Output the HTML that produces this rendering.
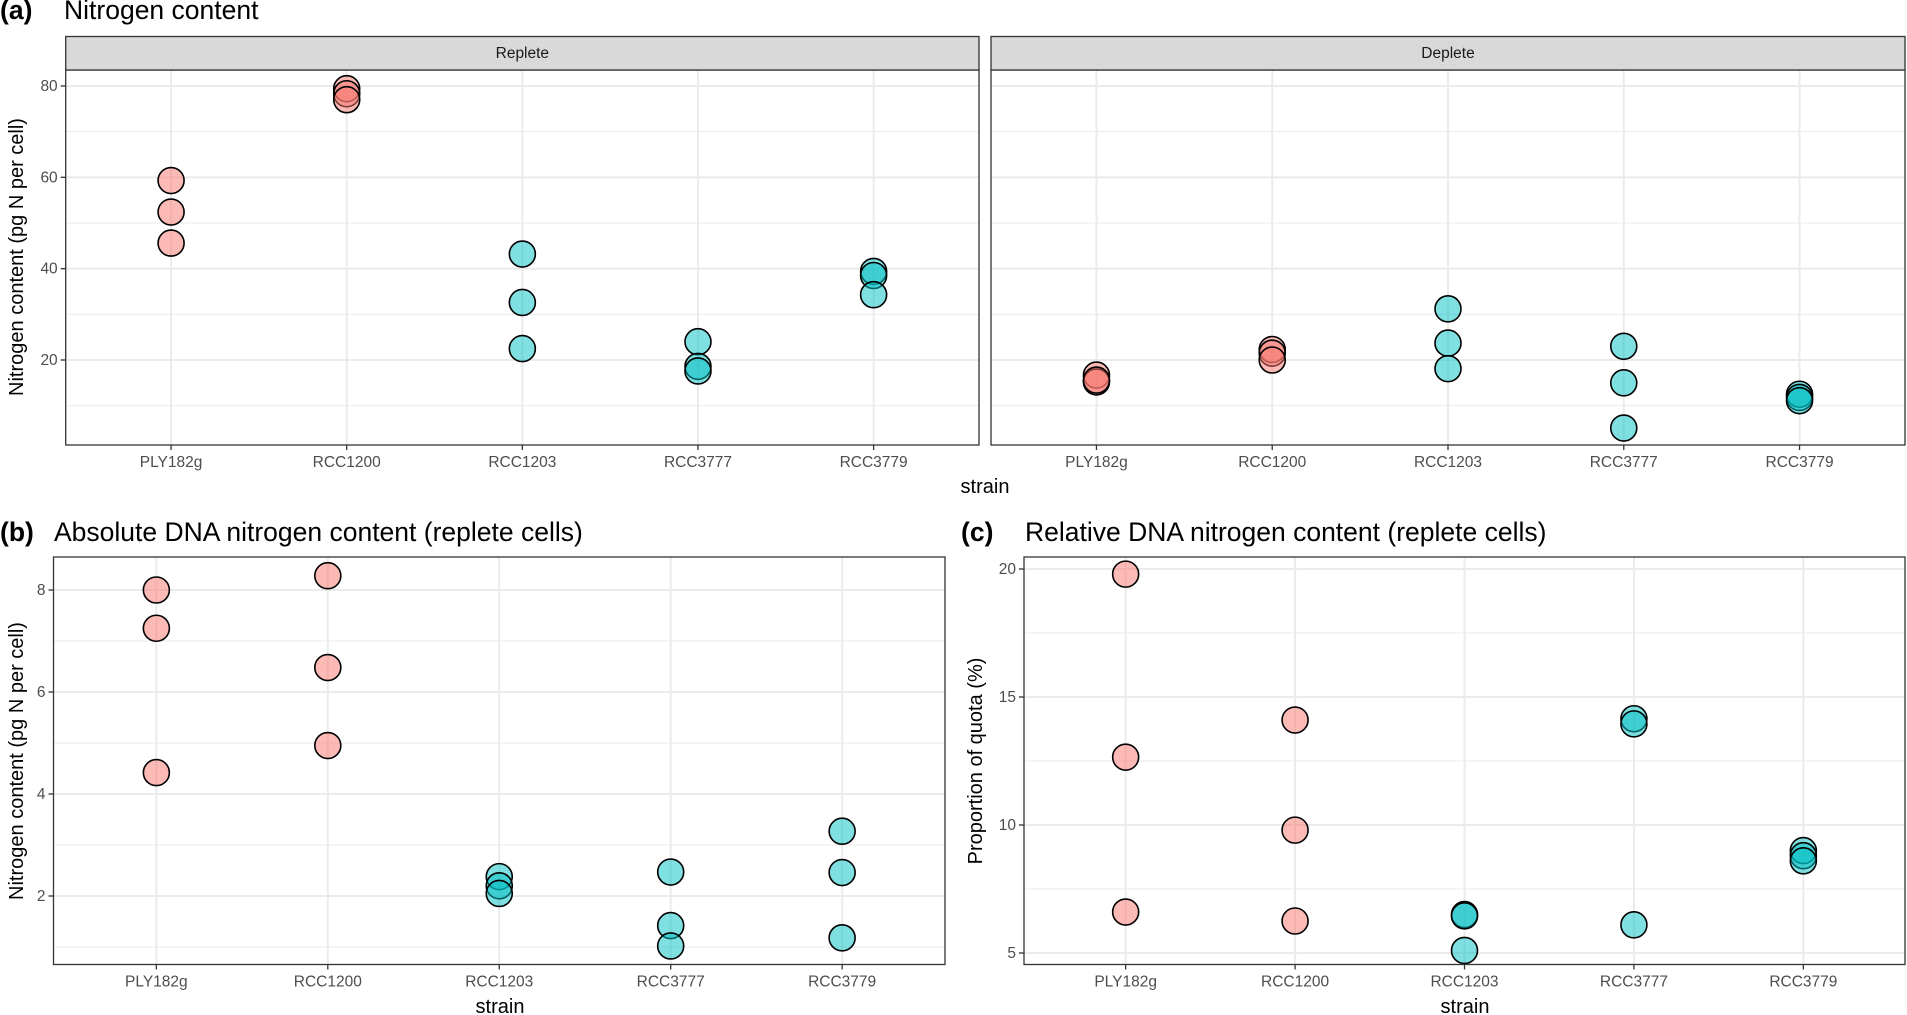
<!DOCTYPE html>
<html><head><meta charset="utf-8"><style>
html,body{margin:0;padding:0;background:#fff;}
svg{display:block;font-family:"Liberation Sans",Arial,sans-serif;}
</style></head><body>
<svg id="chart" width="1907" height="1015" viewBox="0 0 1907 1015" xmlns="http://www.w3.org/2000/svg"></svg>
<script>
const strains = ["PLY182g","RCC1200","RCC1203","RCC3777","RCC3779"];
const groupColor = ["pink","pink","teal","teal","teal"];
const repleteN = [[59.3,52.4,45.6],[79.4,78.3,77.0],[43.2,32.6,22.5],[24.0,18.6,17.6],[39.4,38.5,34.3]];
const depleteN = [[16.7,15.2,15.6],[22.3,21.5,20.0],[31.2,23.7,18.1],[23.0,15.0,5.1],[12.5,11.8,11.1]];
const absDNA = [[8.0,7.25,4.42],[8.28,6.48,4.95],[2.38,2.2,2.05],[2.47,1.42,1.02],[3.27,2.46,1.18]];
const relDNA = [[19.8,12.65,6.6],[14.1,9.8,6.25],[6.5,6.45,5.1],[14.15,13.95,6.1],[9.0,8.8,8.6]];
const ticksA = [20,40,60,80], minorA = [10,30,50,70];
const ticksB = [2,4,6,8], minorB = [1,3,5,7];
const ticksC = [5,10,15,20], minorC = [7.5,12.5,17.5];

const NS="http://www.w3.org/2000/svg";
const svg=document.getElementById('chart');
function mk(tag,attrs,parent){const e=document.createElementNS(NS,tag);for(const k in attrs)e.setAttribute(k,attrs[k]);(parent||svg).appendChild(e);return e;}
function txt(s,attrs,parent){const e=mk('text',attrs,parent);e.textContent=s;return e;}
const fills={pink:"rgba(248,118,109,0.5)",teal:"rgba(0,191,196,0.5)"};

function panel(name,L,R,T,B,vAt,vTop,vBot,data,ticks,minor,showY){
  const g=mk('g',{});
  
  
  const y=v=>T+(vTop-v)/(vTop-vBot)*(B-T);
  const step=(R-L)/5.2;
  const x=i=>L+step*(0.6+i);
  minor.forEach(v=>{const l=mk('line',{x1:L,x2:R,y1:y(v),y2:y(v),stroke:'#ebebeb','stroke-width':1},g);});
  ticks.forEach(v=>{const l=mk('line',{x1:L,x2:R,y1:y(v),y2:y(v),stroke:'#ebebeb','stroke-width':2},g);});
  strains.forEach((s,i)=>{const l=mk('line',{x1:x(i),x2:x(i),y1:T,y2:B,stroke:'#ebebeb','stroke-width':2},g);});
  data.forEach((arr,i)=>arr.forEach(v=>{
    const c=mk('circle',{cx:x(i),cy:y(v),r:13,fill:fills[groupColor[i]],stroke:'#000','stroke-width':1.6},g);
    
    
  }));
  const f=mk('rect',{x:L,y:T,width:R-L,height:B-T,fill:'none',stroke:'#333','stroke-width':1.3},g);
  
  strains.forEach((s,i)=>{
    mk('line',{x1:x(i),x2:x(i),y1:B,y2:B+5,stroke:'#333','stroke-width':1.3},g);
    const t=txt(s,{x:x(i),y:B+22,'text-anchor':'middle','font-size':15.5,fill:'#4d4d4d'},g);
    
  });
  if(showY) ticks.forEach(v=>{
    mk('line',{x1:L-5,x2:L,y1:y(v),y2:y(v),stroke:'#333','stroke-width':1.3},g);
    const t=txt(String(v),{x:L-8,y:y(v)+5,'text-anchor':'end','font-size':15.5,fill:'#4d4d4d'},g);
    
  });
  return g;
}
const aTopVal=20+(360-70)/4.567, aBotVal=20-(445-360)/4.567;
panel('panel-a-replete',65.7,979,70,445,null,aTopVal,aBotVal,repleteN,ticksA,minorA,true);
panel('panel-a-deplete',991,1905,70,445,null,aTopVal,aBotVal,depleteN,ticksA,minorA,false);
[['Replete',65.7,979],['Deplete',991,1905]].forEach(([s,l,r])=>{
  const st=mk('rect',{x:l,y:36.5,width:r-l,height:33.5,fill:'#d9d9d9',stroke:'#333','stroke-width':1.3});
  
  const t=txt(s,{x:(l+r)/2,y:58,'text-anchor':'middle','font-size':15.5,fill:'#1a1a1a'});
  
});
panel('panel-b',53.5,945,557,964.5,null,2+(896-557)/51,2-(964.5-896)/51,absDNA,ticksB,minorB,true);
panel('panel-c',1024,1905,557,964.5,null,20+(569-557)/25.6,20-(964.5-569)/25.6,relDNA,ticksC,minorC,true);

function label(s,a,name){const t=txt(s,a);return t;}
label('(a)',{x:0,y:19,'font-size':26.5,'font-weight':'bold'},'panel-a-tag');
label('Nitrogen content',{x:64,y:19,'font-size':26.5},'panel-a-title');
label('(b)',{x:0,y:541,'font-size':26.5,'font-weight':'bold'},'panel-b-tag');
label('Absolute DNA nitrogen content (replete cells)',{x:54,y:541,'font-size':26.5},'panel-b-title');
label('(c)',{x:961,y:541,'font-size':26.5,'font-weight':'bold'},'panel-c-tag');
label('Relative DNA nitrogen content (replete cells)',{x:1025,y:541,'font-size':26.5},'panel-c-title');
label('strain',{x:985,y:493,'text-anchor':'middle','font-size':20},'x-axis-title-a');
label('strain',{x:500,y:1013,'text-anchor':'middle','font-size':20},'x-axis-title-b');
label('strain',{x:1465,y:1013,'text-anchor':'middle','font-size':20},'x-axis-title-c');
label('Nitrogen content (pg N per cell)',{x:0,y:0,'text-anchor':'middle','font-size':20,transform:'translate(23,257) rotate(-90)'},'y-axis-title-a');
label('Nitrogen content (pg N per cell)',{x:0,y:0,'text-anchor':'middle','font-size':20,transform:'translate(23,761) rotate(-90)'},'y-axis-title-b');
label('Proportion of quota (%)',{x:0,y:0,'text-anchor':'middle','font-size':20,transform:'translate(982,761) rotate(-90)'},'y-axis-title-c');
</script>
</body></html>
